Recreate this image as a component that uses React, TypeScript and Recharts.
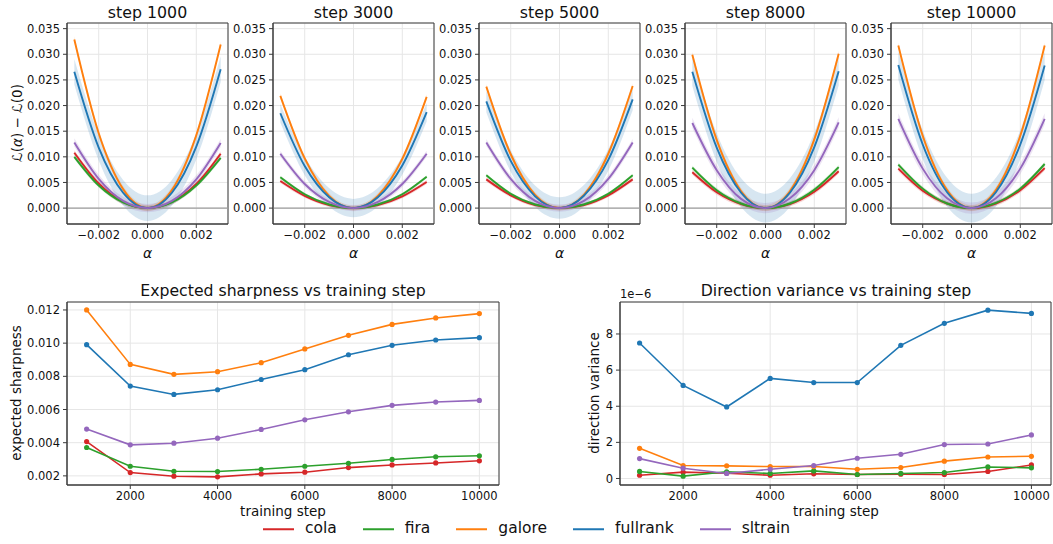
import React from "react"
import {
  ComposedChart,
  LineChart,
  Line,
  Area,
  XAxis,
  YAxis,
  CartesianGrid,
  ReferenceLine,
  ReferenceArea,
} from "recharts"

const FONT = '"DejaVu Sans", Verdana, sans-serif'
const SPINE = "#3a3a3a"
const GRID = "#e6e6e6"

// ---- top row: loss along a random direction, one row per snapshot ----
const snapshotSteps = [1000, 3000, 5000, 8000, 10000]
const alphaGrid = [-0.003, -0.002, -0.001, 0, 0.001, 0.002, 0.003]

const colaLoss = [
  [0.0108, 0.0048, 0.0012, 0, 0.0012, 0.0047, 0.0106],
  [0.0053, 0.0024, 0.0006, 0, 0.0006, 0.0023, 0.0051],
  [0.0056, 0.0025, 0.0006, 0, 0.0006, 0.0025, 0.0056],
  [0.007, 0.0031, 0.0008, 0, 0.0008, 0.0032, 0.0072],
  [0.0077, 0.0034, 0.0009, 0, 0.0009, 0.0035, 0.0078],
]
const firaLoss = [
  [0.01, 0.0044, 0.0011, 0, 0.0011, 0.0044, 0.0098],
  [0.006, 0.0027, 0.0007, 0, 0.0007, 0.0027, 0.0061],
  [0.0064, 0.0028, 0.0007, 0, 0.0007, 0.0028, 0.0064],
  [0.0079, 0.0035, 0.0009, 0, 0.0009, 0.0036, 0.008],
  [0.0085, 0.0038, 0.0009, 0, 0.001, 0.0038, 0.0086],
]
const galoreLoss = [
  [0.0329, 0.0146, 0.0037, 0, 0.0035, 0.0142, 0.0319],
  [0.0219, 0.0097, 0.0024, 0, 0.0024, 0.0096, 0.0217],
  [0.0237, 0.0105, 0.0026, 0, 0.0026, 0.0106, 0.0238],
  [0.0299, 0.0133, 0.0033, 0, 0.0033, 0.0134, 0.0301],
  [0.0317, 0.0141, 0.0035, 0, 0.0035, 0.0141, 0.0317],
]
const fullrankLoss = [
  [0.0266, 0.0118, 0.003, 0, 0.003, 0.012, 0.0271],
  [0.0185, 0.0082, 0.0021, 0, 0.0021, 0.0083, 0.0187],
  [0.0208, 0.0092, 0.0023, 0, 0.0024, 0.0094, 0.0212],
  [0.0266, 0.0118, 0.003, 0, 0.003, 0.0119, 0.0267],
  [0.0279, 0.0124, 0.0031, 0, 0.0031, 0.0124, 0.0278],
]
const sltrainLoss = [
  [0.0128, 0.0057, 0.0014, 0, 0.0014, 0.0056, 0.0127],
  [0.0106, 0.0047, 0.0012, 0, 0.0012, 0.0047, 0.0106],
  [0.0128, 0.0057, 0.0014, 0, 0.0014, 0.0057, 0.0128],
  [0.0166, 0.0074, 0.0018, 0, 0.0019, 0.0074, 0.0167],
  [0.0174, 0.0077, 0.0019, 0, 0.0019, 0.0077, 0.0174],
]

// std across directions, per snapshot
const colaSpread = [0.0005, 0.0004, 0.0004, 0.0005, 0.0005]
const firaSpread = [0.0004, 0.0003, 0.0003, 0.0004, 0.0004]
const galoreSpread = [0.0006, 0.0005, 0.0005, 0.0006, 0.0006]
const fullrankSpread = [0.0025, 0.0018, 0.0021, 0.0028, 0.0028]
const sltrainSpread = [0.0008, 0.0006, 0.0007, 0.001, 0.0011]

// ---- bottom row ----
const trainSteps = [1000, 2000, 3000, 4000, 5000, 6000, 7000, 8000, 9000, 10000]

const colaSharp = [0.00407, 0.0022, 0.00198, 0.00194, 0.00212, 0.00222, 0.0025, 0.00266, 0.00278, 0.00291]
const firaSharp = [0.00371, 0.00258, 0.00228, 0.00226, 0.0024, 0.00258, 0.00276, 0.00299, 0.00315, 0.00321]
const galoreSharp = [0.012, 0.00872, 0.00812, 0.00828, 0.00882, 0.00965, 0.01047, 0.01113, 0.01152, 0.01178]
const fullrankSharp = [0.00991, 0.00741, 0.00691, 0.00719, 0.00781, 0.0084, 0.0093, 0.00987, 0.01019, 0.01033]
const sltrainSharp = [0.00482, 0.00387, 0.00397, 0.00427, 0.0048, 0.00538, 0.00586, 0.00625, 0.00645, 0.00655]

// direction variance, in units of 1e-6
const colaVar = [0.18, 0.35, 0.29, 0.18, 0.26, 0.22, 0.24, 0.22, 0.39, 0.75]
const firaVar = [0.39, 0.13, 0.37, 0.28, 0.42, 0.22, 0.28, 0.33, 0.64, 0.59]
const galoreVar = [1.67, 0.72, 0.7, 0.66, 0.66, 0.51, 0.61, 0.96, 1.19, 1.23]
const fullrankVar = [7.5, 5.15, 3.96, 5.54, 5.31, 5.31, 7.37, 8.59, 9.32, 9.14]
const sltrainVar = [1.1, 0.57, 0.28, 0.51, 0.72, 1.12, 1.34, 1.88, 1.91, 2.41]

const methods = [
  { key: "cola", color: "#d62728", loss: colaLoss, spread: colaSpread, sharp: colaSharp, dvar: colaVar },
  { key: "fira", color: "#2ca02c", loss: firaLoss, spread: firaSpread, sharp: firaSharp, dvar: firaVar },
  { key: "galore", color: "#ff7f0e", loss: galoreLoss, spread: galoreSpread, sharp: galoreSharp, dvar: galoreVar },
  { key: "fullrank", color: "#1f77b4", loss: fullrankLoss, spread: fullrankSpread, sharp: fullrankSharp, dvar: fullrankVar },
  { key: "sltrain", color: "#9467bd", loss: sltrainLoss, spread: sltrainSpread, sharp: sltrainSharp, dvar: sltrainVar },
]

const panelLefts = [67, 273, 479, 685, 891]
const PANEL_W = 161
const PANEL_TOP = 23
const PANEL_H = 201
const X_DOMAIN: [number, number] = [-0.0033, 0.0033]
const Y_DOMAIN: [number, number] = [-0.0031, 0.0361]

const tickStyle = { fontSize: 11.5, fill: "#111", fontFamily: FONT }

const fmtSigned = (v: number, d: number) =>
  v < 0 ? "\u2212" + Math.abs(v).toFixed(d) : v.toFixed(d)

function Text({
  x,
  y,
  size,
  children,
  rotate,
  align = "center",
}: {
  x: number
  y: number
  size: number
  children: React.ReactNode
  rotate?: boolean
  align?: "center" | "left"
}) {
  const tx = align === "center" ? "-50%" : "0"
  return (
    <div
      style={{
        position: "absolute",
        left: x,
        top: y,
        transform: `translate(${tx}, -50%)${rotate ? " rotate(-90deg)" : ""}`,
        transformOrigin: rotate ? "50% 50%" : undefined,
        fontSize: size,
        fontFamily: FONT,
        color: "#111",
        whiteSpace: "nowrap",
        lineHeight: 1,
      }}
    >
      {children}
    </div>
  )
}

function LossPanel({ index }: { index: number }) {
  const rows = alphaGrid.map((a, j) => {
    const r: Record<string, number | number[]> = { alpha: a }
    methods.forEach((m) => {
      const v = m.loss[index][j]
      const s = m.spread[index]
      r[m.key] = v
      r[m.key + "Band"] = [v - s, v + s]
    })
    return r
  })
  const yAxisW = 60
  const left = panelLefts[index] - yAxisW
  return (
    <div style={{ position: "absolute", left, top: 0 }}>
      <ComposedChart
        width={yAxisW + PANEL_W + 2}
        height={PANEL_TOP + PANEL_H + 40}
        data={rows}
        margin={{ top: PANEL_TOP, right: 2, left: 0, bottom: 0 }}
      >
        <CartesianGrid stroke={GRID} fill="none" />
        <XAxis
          dataKey="alpha"
          type="number"
          domain={X_DOMAIN}
          allowDataOverflow
          ticks={[-0.002, 0, 0.002]}
          tickFormatter={(v: number) => fmtSigned(v, 3)}
          height={40}
          tick={tickStyle}
          tickSize={4}
          tickMargin={3}
          axisLine={{ stroke: SPINE }}
          tickLine={{ stroke: SPINE }}
        />
        <YAxis
          type="number"
          domain={Y_DOMAIN}
          allowDataOverflow
          ticks={[0, 0.005, 0.01, 0.015, 0.02, 0.025, 0.03, 0.035]}
          tickFormatter={(v: number) => v.toFixed(3)}
          width={yAxisW}
          tick={tickStyle}
          tickSize={4}
          tickMargin={3}
          axisLine={{ stroke: SPINE }}
          tickLine={{ stroke: SPINE }}
        />
        <ReferenceLine y={0} stroke="#9e9e9e" strokeWidth={1.3} />
        {methods.map((m) => (
          <Area
            key={m.key + "Band"}
            dataKey={m.key + "Band"}
            type="monotone"
            stroke="none"
            fill={m.color}
            fillOpacity={0.18}
            isAnimationActive={false}
          />
        ))}
        {methods.map((m) => (
          <Line
            key={m.key}
            dataKey={m.key}
            type="monotone"
            stroke={m.color}
            strokeWidth={1.9}
            dot={false}
            isAnimationActive={false}
          />
        ))}
        <ReferenceArea
          x1={X_DOMAIN[0]}
          x2={X_DOMAIN[1]}
          y1={Y_DOMAIN[0]}
          y2={Y_DOMAIN[1]}
          fill="none"
          stroke={SPINE}
          strokeWidth={1}
          ifOverflow="visible"
        />
      </ComposedChart>
    </div>
  )
}

function StepChart({
  left,
  yAxisW,
  plotW,
  field,
  domain,
  ticks,
  fmt,
}: {
  left: number
  yAxisW: number
  plotW: number
  field: "sharp" | "dvar"
  domain: [number, number]
  ticks: number[]
  fmt: (v: number) => string
}) {
  const rows = trainSteps.map((s, i) => {
    const r: Record<string, number> = { step: s }
    methods.forEach((m) => {
      r[m.key] = m[field][i]
    })
    return r
  })
  const xDomain: [number, number] = [550, 10450]
  return (
    <div style={{ position: "absolute", left: left - yAxisW, top: 292 }}>
      <LineChart
        width={yAxisW + plotW + 2}
        height={10 + 183 + 30}
        data={rows}
        margin={{ top: 10, right: 2, left: 0, bottom: 0 }}
      >
        <CartesianGrid stroke={GRID} fill="none" />
        <XAxis
          dataKey="step"
          type="number"
          domain={xDomain}
          allowDataOverflow
          ticks={[2000, 4000, 6000, 8000, 10000]}
          height={30}
          tick={tickStyle}
          tickSize={4}
          tickMargin={3}
          axisLine={{ stroke: SPINE }}
          tickLine={{ stroke: SPINE }}
        />
        <YAxis
          type="number"
          domain={domain}
          allowDataOverflow
          ticks={ticks}
          tickFormatter={fmt}
          width={yAxisW}
          tick={tickStyle}
          tickSize={4}
          tickMargin={3}
          axisLine={{ stroke: SPINE }}
          tickLine={{ stroke: SPINE }}
        />
        {methods.map((m) => (
          <Line
            key={m.key}
            dataKey={m.key}
            type="linear"
            stroke={m.color}
            strokeWidth={1.6}
            dot={{ r: 2.6, fill: m.color, stroke: m.color, strokeWidth: 0 }}
            isAnimationActive={false}
          />
        ))}
        <ReferenceArea
          x1={xDomain[0]}
          x2={xDomain[1]}
          y1={domain[0]}
          y2={domain[1]}
          fill="none"
          stroke={SPINE}
          strokeWidth={1}
          ifOverflow="visible"
        />
      </LineChart>
    </div>
  )
}

function Legend() {
  return (
    <div
      style={{
        position: "absolute",
        left: 0,
        width: 1053,
        top: 529,
        transform: "translateY(-50%)",
        display: "flex",
        justifyContent: "center",
        gap: 26,
        fontFamily: FONT,
        fontSize: 15.5,
        color: "#111",
        lineHeight: 1,
      }}
    >
      {methods.map((m) => (
        <div key={m.key} style={{ display: "flex", alignItems: "center", gap: 11 }}>
          <svg width={31} height={4}>
            <line x1={0} x2={31} y1={2} y2={2} stroke={m.color} strokeWidth={2} />
          </svg>
          <span>{m.key}</span>
        </div>
      ))}
    </div>
  )
}

export default function App() {
  const yLabel = (
    <span>
      ℒ(<i>α</i>) − ℒ(0)
    </span>
  )
  return (
    <div
      style={{
        position: "absolute",
        left: 0,
        top: 0,
        width: 1053,
        height: 544,
        background: "#fff",
        overflow: "hidden",
      }}
    >
      {snapshotSteps.map((s, i) => (
        <React.Fragment key={s}>
          <LossPanel index={i} />
          <Text x={panelLefts[i] + PANEL_W / 2} y={13} size={15.8}>
            step {s}
          </Text>
          <Text x={panelLefts[i] + PANEL_W / 2} y={253} size={14}>
            <i>α</i>
          </Text>
        </React.Fragment>
      ))}
      <Text x={18} y={123} size={13.5} rotate>
        {yLabel}
      </Text>

      <StepChart
        left={67}
        yAxisW={60}
        plotW={432}
        field="sharp"
        domain={[0.00145, 0.01248]}
        ticks={[0.002, 0.004, 0.006, 0.008, 0.01, 0.012]}
        fmt={(v) => v.toFixed(3)}
      />
      <StepChart
        left={620}
        yAxisW={40}
        plotW={431}
        field="dvar"
        domain={[-0.36, 9.77]}
        ticks={[0, 2, 4, 6, 8]}
        fmt={(v) => String(v)}
      />

      <Text x={283} y={291} size={15.7}>
        Expected sharpness vs training step
      </Text>
      <Text x={836} y={291} size={15.7}>
        Direction variance vs training step
      </Text>
      <Text x={283} y={512} size={13.5}>
        training step
      </Text>
      <Text x={836} y={512} size={13.5}>
        training step
      </Text>
      <Text x={17} y={393} size={13.5} rotate>
        expected sharpness
      </Text>
      <Text x={595} y={393} size={13.5} rotate>
        direction variance
      </Text>
      <Text x={620} y={295} size={11.5} align="left">
        1e−6
      </Text>

      <Legend />
    </div>
  )
}
